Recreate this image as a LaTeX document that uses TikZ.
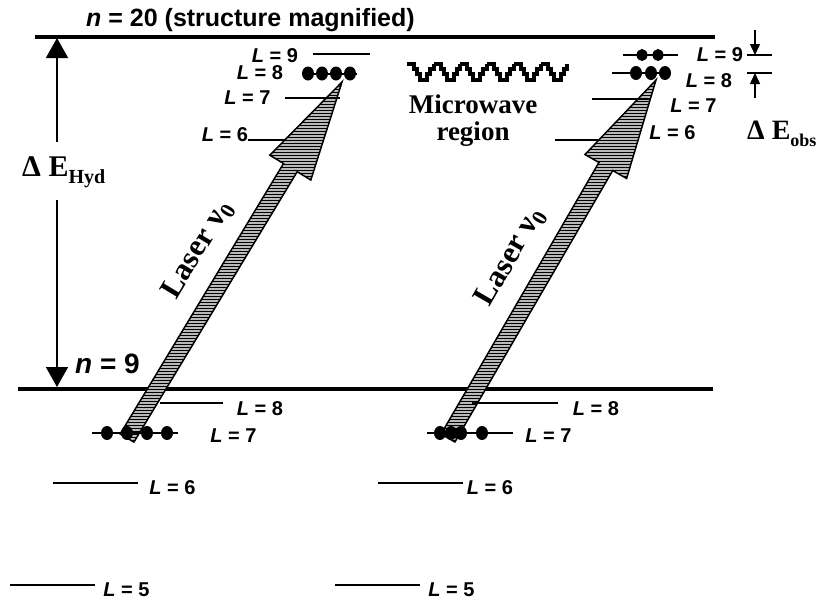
\documentclass[tikz,border=0pt]{standalone}
\usepackage{fontspec}
\setmainfont{Liberation Serif}
\newfontfamily\lsans{Liberation Sans}
\usetikzlibrary{shapes.geometric,arrows.meta,patterns}
\begin{document}
\begin{tikzpicture}[x=1pt,y=-1pt,
 nline/.style={line width=3.5pt},
 lvl/.style={line width=2pt},
 dotp/.style={ellipse,fill=black,minimum width=12pt,minimum height=14pt,inner sep=0pt},
 lab/.style={font=\lsans\bfseries\fontsize{20}{20}\selectfont, inner sep=0pt},
 big/.style={font=\lsans\bfseries\fontsize{25}{25}\selectfont, inner sep=0pt},
 serif/.style={font=\bfseries\fontsize{27}{30}\selectfont, inner sep=0pt},
 lasertxt/.style={font=\bfseries\fontsize{31}{31}\selectfont, inner sep=0pt},
 laser/.style={preaction={fill=gray!55}, pattern=horizontal lines, pattern color=black, draw=black, line width=1.5pt, line join=miter},
 dimarrow/.style={line width=1.6pt, -{Triangle[length=20pt,width=22pt]}},
 smallarrow/.style={line width=1.4pt, -{Triangle[length=11pt,width=10pt]}},
]
\useasboundingbox (0,0) rectangle (824,603);

% main n-lines
\draw[nline] (35,37) -- (715,37);
\draw[nline] (18,389) -- (713,389);
\node[big, anchor=base west] (title) at (86,26) {\textit{n} = 20 (structure magnified)};
\node[big, font=\lsans\bfseries\fontsize{28}{28}\selectfont, anchor=base west] (n9) at (75,373) {\textit{n} = 9};

% Delta E_Hyd
\node[serif, font=\bfseries\fontsize{30}{30}\selectfont, anchor=base west] (dehyd) at (22,176) {Δ E\raisebox{-0.25em}{\fontsize{20}{20}\selectfont Hyd}};
\coordinate (hydtop) at (57,38);
\coordinate (hydbot) at (57,387);
\draw[dimarrow] (57,142) -- (hydtop);
\draw[dimarrow] (57,200) -- (hydbot);

% laser arrows
\draw[laser] (120.2,433.9) -- (133.9,442.1) -- (297.2,171.7) -- (310.8,180.0) -- (342,82) -- (269.8,155.2) -- (283.5,163.5) -- cycle;
\draw[laser] (441.1,434.0) -- (454.9,442.0) -- (612.7,170.5) -- (626.6,178.5) -- (656,80) -- (585.0,154.5) -- (598.9,162.5) -- cycle;
\node[lasertxt, rotate=59] (las1) at (198,250) {Laser ν\textsubscript{0}};
\node[lasertxt, rotate=60] (las2) at (511,257) {Laser ν\textsubscript{0}};

% left upper levels
\draw[lvl] (313,54) -- (370,54);
\node[lab] (l9a) at (275,55.5) {\textit{L} = 9};
\draw[lvl] (303,73.5) -- (357,73.5);
\foreach \x in {308,322,336,350} \node[dotp] at (\x,73.5) {};
\node[lab] (l8a) at (260,72.5) {\textit{L} = 8};
\draw[lvl] (285,98) -- (340,98);
\node[lab] (l7a) at (247.5,97.5) {\textit{L} = 7};
\draw[lvl] (248,140) -- (285,140);
\node[lab] (l6a) at (225,134.5) {\textit{L} = 6};

% right upper levels
\draw[lvl] (623,55) -- (678,55);
\foreach \x in {642,658} \node[dotp, minimum width=11pt, minimum height=12pt] at (\x,55) {};
\node[lab] (l9b) at (720,54.5) {\textit{L} = 9};
\draw[lvl] (612,73) -- (670,73);
\foreach \x in {636,651,665} \node[dotp] at (\x,73) {};
\node[lab] (l8b) at (709,80.5) {\textit{L} = 8};
\draw[lvl] (592,99) -- (650,99);
\node[lab] (l7b) at (693.5,105.5) {\textit{L} = 7};
\draw[lvl] (555,140) -- (598,140);
\node[lab] (l6b) at (672.5,132.5) {\textit{L} = 6};

% Delta E_obs
\coordinate (obs1) at (755,55);
\coordinate (obs2) at (755,73);
\draw[line width=1.4pt] (747,55) -- (772,55);
\draw[line width=1.4pt] (747,73) -- (772,73);
\draw[smallarrow] (755,30) -- (obs1);
\draw[smallarrow] (755,98) -- (obs2);
\node[serif, font=\bfseries\fontsize{28}{28}\selectfont, anchor=base west] (deobs) at (747,139) {Δ E\raisebox{-0.25em}{\fontsize{18}{18}\selectfont obs}};

% microwave
\foreach \i in {0,...,5} {
  \pgfmathsetmacro{\xo}{407+26.7*\i}
  \draw[line width=4pt, line join=miter] (\xo,64) -- (\xo+7,64) -- (\xo+7,69) -- (\xo+10,69) -- (\xo+10,74) -- (\xo+13,74) -- (\xo+13,80) -- (\xo+20,80) -- (\xo+20,74) -- (\xo+23,74) -- (\xo+23,69) -- (\xo+26.7,69) -- (\xo+26.7,64);
}
\node[serif, anchor=base] (mw1) at (473,113) {Microwave};
\node[serif, anchor=base] (mw2) at (473,140) {region};

% left lower levels
\draw[lvl] (160,403) -- (223,403);
\node[lab] (l8c) at (260,408.5) {\textit{L} = 8};
\draw[lvl] (92,433) -- (178,433);
\foreach \x in {107,127,147,167} \node[dotp] at (\x,433) {};
\node[lab] (l7c) at (233.5,436) {\textit{L} = 7};
\draw[lvl] (53,483) -- (138,483);
\node[lab] (l6c) at (172.5,487.5) {\textit{L} = 6};
\draw[lvl] (10,585) -- (95,585);
\node[lab] (l5c) at (126.5,590) {\textit{L} = 5};

% right lower levels
\draw[lvl] (472,403) -- (558,403);
\node[lab] (l8d) at (596,408.5) {\textit{L} = 8};
\draw[lvl] (427,433) -- (513,433);
\foreach \x in {440,451,461,482} \node[dotp] at (\x,433) {};
\node[lab] (l7d) at (548.5,436) {\textit{L} = 7};
\draw[lvl] (378,483) -- (463,483);
\node[lab] (l6d) at (490,487.5) {\textit{L} = 6};
\draw[lvl] (335,585) -- (420,585);
\node[lab] (l5d) at (451.5,590) {\textit{L} = 5};
\end{tikzpicture}
\end{document}
